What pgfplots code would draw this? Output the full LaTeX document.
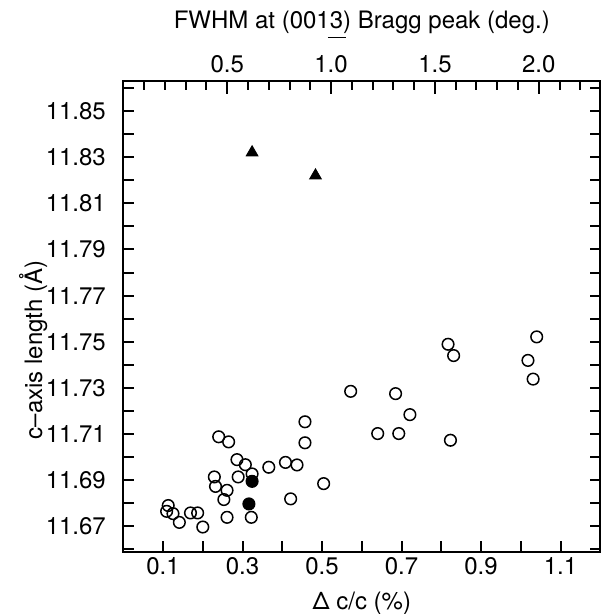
\documentclass[border=0pt]{standalone}
\usepackage{fontspec}
\setmainfont{TeX Gyre Heros}
\usepackage{pgfplots}
\pgfplotsset{compat=1.18}

\pgfplotstableread{
x y
0.572 11.7285
0.457 11.7153
0.457 11.7062
0.240 11.7088
0.265 11.7066
0.286 11.6989
0.307 11.6967
0.324 11.6927
0.289 11.6914
0.366 11.6956
0.408 11.6977
0.437 11.6966
0.504 11.6885
0.421 11.6819
0.229 11.6914
0.232 11.6873
0.261 11.6856
0.253 11.6816
0.261 11.6739
0.322 11.6739
0.113 11.6790
0.109 11.6765
0.125 11.6755
0.141 11.6717
0.169 11.6758
0.187 11.6758
0.200 11.6697
0.817 11.7489
0.831 11.7440
0.685 11.7275
0.721 11.7184
0.640 11.7102
0.693 11.7102
0.823 11.7073
1.040 11.7521
1.018 11.7419
1.031 11.7338
}\opendata

\pgfplotstableread{
x y
0.324 11.6895
0.316 11.6797
}\filleddata

\pgfplotstableread{
x y
0.324 11.832
0.4835 11.822
}\triangledata

\pgfplotsset{every axis/.append style={font=\fontsize{12}{14}\selectfont}}

\begin{document}
\begin{tikzpicture}
\begin{axis}[
  name=main,
  scale only axis,
  width=238.5pt, height=235.35pt,
  xmin=0, xmax=1.2,
  ymin=11.659, ymax=11.863,
  axis line style={line width=1pt},
  every tick/.style={line width=1pt, black},
  tick align=inside,
  major tick length=5.3pt,
  xtick pos=bottom,
  ytick pos=both,
  xtick={0.1,0.2,0.3,0.4,0.5,0.6,0.7,0.8,0.9,1.0,1.1},
  xticklabels={0.1,,0.3,,0.5,,0.7,,0.9,,1.1},
  ytick={11.66,11.67,11.68,11.69,11.70,11.71,11.72,11.73,11.74,11.75,11.76,11.77,11.78,11.79,11.80,11.81,11.82,11.83,11.84,11.85,11.86},
  yticklabels={,11.67,,11.69,,11.71,,11.73,,11.75,,11.77,,11.79,,11.81,,11.83,,11.85,},
  yticklabel style={xshift=-5.2pt},
  xticklabel style={yshift=0.8pt},
  xlabel={Δ c/c (\%)},
  xlabel style={at={(axis description cs:0.5,-0.122)}, anchor=base},
  ylabel={c--axis length (Å)},
  ylabel style={at={(axis description cs:-0.189,0.4285)}, anchor=center, rotate=0},
  clip=false,
]
\addplot[only marks, mark=o, mark size=2.9pt, mark options={line width=0.75pt, black}] table[x=x,y=y] {\opendata};
\addplot[only marks, mark=*, mark size=2.9pt, mark options={line width=0.75pt, black, fill=black}] table[x=x,y=y] {\filleddata};
\addplot[only marks, mark=triangle*, mark size=3.4pt, mark options={black, fill=black}] table[x=x,y=y] {\triangledata};
\end{axis}
\begin{axis}[
  scale only axis,
  width=238.5pt, height=235.35pt,
  xmin=0, xmax=2.296,
  ymin=0, ymax=1,
  hide y axis,
  axis line style={line width=1pt},
  every tick/.style={line width=1pt, black},
  tick align=inside,
  major tick length=6.3pt,
  minor tick length=4.5pt,
  xtick pos=top,
  xticklabel pos=top,
  xtick={0.5,1.0,1.5,2.0},
  xticklabels={0.5,1.0,1.5,2.0},
  minor xtick={0.1,0.2,0.3,0.4,0.6,0.7,0.8,0.9,1.1,1.2,1.3,1.4,1.6,1.7,1.8,1.9,2.1,2.2},
  xticklabel style={yshift=0.6pt},
  xlabel={FWHM at (001\makebox[0pt][l]{\hspace{-1pt}\rule[-5pt]{9pt}{0.7pt}}3) Bragg peak (deg.)},
  xlabel style={at={(axis description cs:0.5,1.112)}, anchor=base},
]
\end{axis}
\pgfresetboundingbox
\path ([shift={(-61.65pt,-31.15pt)}]main.south west) rectangle ([shift={(0.85pt,40.5pt)}]main.north east);
\end{tikzpicture}
\end{document}
